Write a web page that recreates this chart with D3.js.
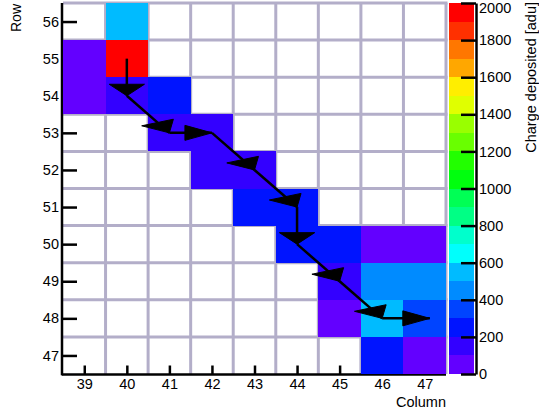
<!DOCTYPE html>
<html>
<head>
<meta charset="utf-8">
<script src="https://cdn.jsdelivr.net/npm/d3@7"></script>
<style>
  html, body { margin: 0; padding: 0; background: #fff; }
  svg { display: block; }
  text { font-family: "Liberation Sans", Arial, Helvetica, sans-serif; fill: #000; }
</style>
</head>
<body>
<svg id="chart" width="539" height="414"></svg>
<script>
// Pixel columns and rows of the sensor window
const columns = [39, 40, 41, 42, 43, 44, 45, 46, 47];
const rows = [47, 48, 49, 50, 51, 52, 53, 54, 55, 56];

// Hit pixels: column, row and deposited charge [adu]
const hitCol    = [40, 39, 40, 39, 40, 41, 41, 42, 42, 43, 43, 44, 44, 45, 46, 47, 45, 46, 47, 45, 46, 47, 46, 47];
const hitRow    = [56, 55, 55, 54, 54, 54, 53, 53, 52, 52, 51, 51, 50, 50, 50, 50, 49, 49, 49, 48, 48, 48, 47, 47];
const hitCharge = [550, 50, 1950, 50, 150, 250, 150, 150, 150, 150, 250, 250, 250, 250, 50, 50, 150, 450, 450, 50, 550, 350, 250, 50];

// Reconstructed track through the cluster (column, row)
const trackCol = [40, 40, 41, 42, 43, 44, 44, 45, 46, 47.12];
const trackRow = [55, 54, 53, 53, 52, 51, 50, 49, 48, 48];

// Colour axis
const zTicks = [0, 200, 400, 600, 800, 1000, 1200, 1400, 1600, 1800, 2000];
const zMax = 2000;
const nContours = 20;

const svg = d3.select("#chart");

const x = d3.scaleLinear().domain([38.5, 47.5]).range([63, 446]);
const y = d3.scaleLinear().domain([46.5, 56.5]).range([374, 3]);
const z = d3.scaleLinear().domain([0, zMax]).range([374, 3]);

// Rainbow palette: 50 hues from violet to red, 20 contour levels picked from it
const palette = d3.range(nContours).map(k => {
  const idx = Math.floor((k + 0.99) * 50 / nContours);
  const hue = 280 - (idx + 1) * (280 / 50);
  return d3.hsl(hue, 1, 0.5).formatHex();
});
const color = d3.scaleQuantize().domain([0, zMax]).range(palette);

const gridColor = "#b3aec9";
const axisWidth = 2.5;
const fontSize = "14.5px";

// Pixel grid
const grid = svg.append("g").attr("stroke", gridColor).attr("stroke-width", 3);
columns.forEach(c => {
  grid.append("line")
    .attr("x1", x(c + 0.5)).attr("x2", x(c + 0.5))
    .attr("y1", y(56.5)).attr("y2", y(46.5));
});
rows.forEach(r => {
  grid.append("line")
    .attr("x1", x(38.5)).attr("x2", x(47.5) + 1.5)
    .attr("y1", y(r + 0.5)).attr("y2", y(r + 0.5));
});

// Axes (drawn beneath the hit pixels)
const xAxis = d3.axisBottom(x).tickValues(columns).tickSizeInner(-9).tickSizeOuter(0).tickPadding(4);
const yAxis = d3.axisLeft(y).tickValues(rows).tickSizeInner(-15).tickSizeOuter(0).tickPadding(3);

const gx = svg.append("g").attr("transform", "translate(0,374.5)").call(xAxis);
const gy = svg.append("g").attr("transform", "translate(62,0)").call(yAxis);
[gx, gy].forEach(g => {
  g.select(".domain").attr("stroke", "#000").attr("stroke-width", axisWidth);
  g.selectAll(".tick line").attr("stroke", "#000").attr("stroke-width", axisWidth);
  g.selectAll(".tick text").style("font-size", fontSize).attr("fill", "#000");
});
gx.select(".domain").attr("d", `M${x(38.5) - 1.25},0H${x(47.5)}`);
gy.select(".domain").attr("d", `M0,${y(56.5)}V${y(46.5) + 1.25}`);

// Hit pixels
const hits = hitCol.map((c, i) => ({ col: c, row: hitRow[i], q: hitCharge[i] }));
svg.append("g").selectAll("rect").data(hits).join("rect")
  .attr("x", d => x(d.col - 0.5))
  .attr("y", d => y(d.row + 0.5))
  .attr("width", d => x(d.col + 0.5) - x(d.col - 0.5))
  .attr("height", d => y(d.row - 0.5) - y(d.row + 0.5))
  .attr("fill", d => color(d.q))
  .attr("shape-rendering", "crispEdges");

// Track arrows; heads are built in a frame stretched horizontally
const track = svg.append("g");
const stretch = 2.35, headLen = 11.5, headHalf = 7.5;
for (let i = 0; i < trackCol.length - 1; i++) {
  const x0 = x(trackCol[i]), y0 = y(trackRow[i]);
  const x1 = x(trackCol[i + 1]), y1 = y(trackRow[i + 1]);
  track.append("line")
    .attr("x1", x0).attr("y1", y0).attr("x2", x1).attr("y2", y1)
    .attr("stroke", "#000").attr("stroke-width", 2.5);
  const du = (x1 - x0) / stretch, dv = y1 - y0;
  const len = Math.hypot(du, dv);
  const ux = du / len, uy = dv / len;
  const nx = -uy, ny = ux;
  const bu = -headLen * ux, bv = -headLen * uy;
  const p1 = [x1 + (bu + headHalf * nx) * stretch, y1 + bv + headHalf * ny];
  const p2 = [x1 + (bu - headHalf * nx) * stretch, y1 + bv - headHalf * ny];
  track.append("path")
    .attr("d", `M${x1},${y1}L${p1[0]},${p1[1]}L${p2[0]},${p2[1]}Z`)
    .attr("fill", "#000").attr("stroke", "#000").attr("stroke-width", 1);
}

// Colour scale bar
const barX = 449, barW = 25;
svg.append("g").selectAll("rect").data(palette).join("rect")
  .attr("x", barX)
  .attr("y", (d, k) => z((k + 1) * zMax / nContours))
  .attr("width", barW)
  .attr("height", (d, k) => z(k * zMax / nContours) - z((k + 1) * zMax / nContours))
  .attr("fill", d => d)
  .attr("shape-rendering", "crispEdges");

const zAxis = d3.axisRight(z).tickValues(zTicks).tickFormat(d3.format("d"))
  .tickSizeInner(-15).tickSizeOuter(0).tickPadding(3);
const gz = svg.append("g").attr("transform", "translate(476,0)").call(zAxis);
gz.select(".domain").attr("stroke", "#000").attr("stroke-width", axisWidth);
gz.selectAll(".tick line").attr("stroke", "#000").attr("stroke-width", axisWidth);
gz.selectAll(".tick text").style("font-size", fontSize).attr("fill", "#000");
// keep the top label inside the page
gz.selectAll(".tick text").filter(d => d === zMax).attr("dy", "0.65em");

// Axis titles
svg.append("text")
  .attr("x", x(47.5)).attr("y", 406.5)
  .attr("text-anchor", "end")
  .style("font-size", fontSize)
  .text("Column");

svg.append("text")
  .attr("transform", "translate(21,4) rotate(-90)")
  .attr("text-anchor", "end")
  .style("font-size", "14px")
  .text("Row");

svg.append("text")
  .attr("transform", "translate(536,2) rotate(-90)")
  .attr("text-anchor", "end")
  .style("font-size", fontSize)
  .text("Charge deposited [adu]");
</script>
</body>
</html>
